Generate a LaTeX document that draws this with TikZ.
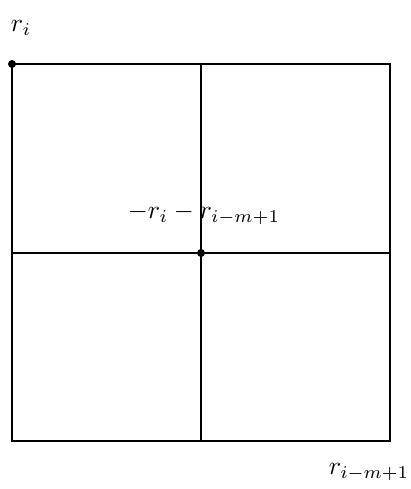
\documentclass[tikz,border=0pt]{standalone}
\begin{document}
\begin{tikzpicture}[x=0.35pt,y=-0.35pt,
  gridline/.style={line width=0.9pt},
  dotmark/.style={circle,fill=black,inner sep=0pt,minimum size=2.8pt},
  lbl/.style={scale=0.9}]
\useasboundingbox (0,0) rectangle (410,489);
\coordinate (tl) at (12,64);
\coordinate (br) at (390,441);
\coordinate (tm) at (201,64);
\coordinate (bm) at (201,441);
\coordinate (lm) at (12,253);
\coordinate (rm) at (390,253);
\draw[gridline] (tl) rectangle (br);
\draw[gridline] (tm) -- (bm);
\draw[gridline] (lm) -- (rm);
\node[dotmark] (d1) at (tl) {};
\node[dotmark] (d2) at (201,253) {};
\node[lbl] (l1) at (21,28) {$r_i$};
\node[lbl] (l2) at (204,214) {$-r_i - r_{i-m+1}$};
\node[lbl] (l3) at (369,472) {$r_{i-m+1}$};
\end{tikzpicture}
\end{document}
